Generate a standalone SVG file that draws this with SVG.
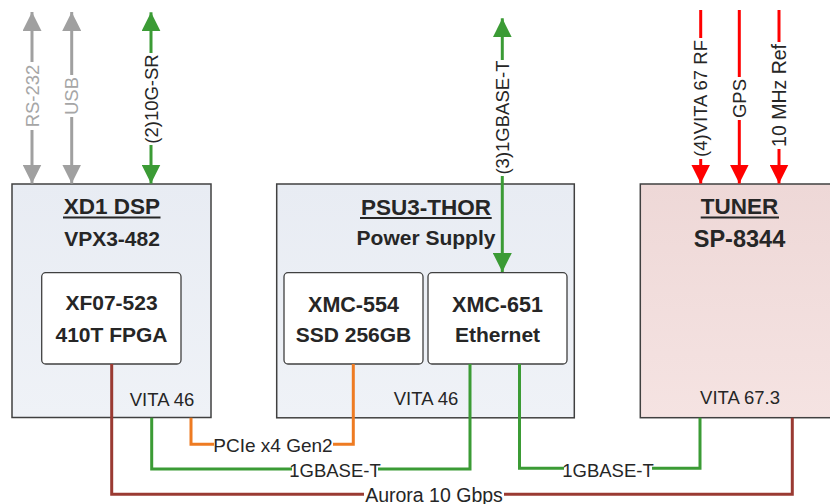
<svg xmlns="http://www.w3.org/2000/svg" width="830" height="504" viewBox="0 0 830 504">
<style>
.box{stroke:#404040;stroke-width:1.5}
.blue{fill:url(#gBlue)}
.pink{fill:url(#gPink)}
.inner{fill:#ffffff;stroke:#404040;stroke-width:1.3}
.t{font-family:"Liberation Sans",Arial,sans-serif;font-weight:bold;fill:#262626;text-anchor:middle}
.ul{stroke:#262626;stroke-width:1.8}
.r{font-family:"Liberation Sans",Arial,sans-serif;font-size:18.5px;fill:#262626;text-anchor:middle}
.rg{font-family:"Liberation Sans",Arial,sans-serif;font-size:18.5px;fill:#a6a6a6;text-anchor:middle}
.big{font-size:19.5px}
.gray{stroke:#a0a0a0;stroke-width:3;fill:none}
.green{stroke:#3b9b35;stroke-width:3;fill:none}
.red{stroke:#ff0000;stroke-width:3;fill:none}
.orange{stroke:#ee7b22;stroke-width:3;fill:none}
.brown{stroke:#9a3a32;stroke-width:3;fill:none}
.bg{fill:#ffffff}
</style>
<defs>
<linearGradient id="gBlue" x1="0" y1="0" x2="0" y2="1">
<stop offset="0" stop-color="#e8ecf3"/>
<stop offset="1" stop-color="#eff2f7"/>
</linearGradient>
<linearGradient id="gPink" x1="0" y1="0" x2="0" y2="1">
<stop offset="0" stop-color="#eed8d7"/>
<stop offset="1" stop-color="#f5e3e2"/>
</linearGradient>
<marker id="aGray" markerUnits="userSpaceOnUse" markerWidth="19" markerHeight="19" viewBox="0 0 19 19" refX="19" refY="9.5" orient="auto-start-reverse"><path d="M0,0 L19,9.5 L0,19 z" fill="#a0a0a0"/></marker>
<marker id="aGreen" markerUnits="userSpaceOnUse" markerWidth="19" markerHeight="19" viewBox="0 0 19 19" refX="19" refY="9.5" orient="auto-start-reverse"><path d="M0,0 L19,9.5 L0,19 z" fill="#3b9b35"/></marker>
<marker id="aRed" markerUnits="userSpaceOnUse" markerWidth="19" markerHeight="19" viewBox="0 0 19 19" refX="19" refY="9.5" orient="auto-start-reverse"><path d="M0,0 L19,9.5 L0,19 z" fill="#ff0000"/></marker>
</defs>

<g id="xd1">
<rect class="box blue" x="12" y="184" width="199" height="233.5"/>
<text class="t" x="112" y="213.5" font-size="22.5">XD1 DSP</text>
<line class="ul" x1="63" y1="217.5" x2="160.5" y2="217.5"/>
<text class="t" x="112" y="245.5" font-size="21">VPX3-482</text>
<text class="r" x="162" y="405.5">VITA 46</text>
</g>
<g id="fpga">
<rect class="inner" x="41.7" y="272.7" width="139.3" height="91.3" rx="4"/>
<text class="t" x="111.5" y="310" font-size="21">XF07-523</text>
<text class="t" x="111.5" y="341.5" font-size="21">410T FPGA</text>
</g>

<g id="psu">
<rect class="box blue" x="276.7" y="184" width="297.6" height="233.8"/>
<text class="t" x="426" y="214.5" font-size="22.5">PSU3-THOR</text>
<line class="ul" x1="360" y1="218" x2="491.7" y2="218"/>
<text class="t" x="426" y="245" font-size="21">Power Supply</text>
<text class="r" x="426" y="405">VITA 46</text>
</g>
<g id="xmc554">
<rect class="inner" x="284" y="272.7" width="139" height="91.3" rx="4"/>
<text class="t" x="353.5" y="311.5" font-size="21.5">XMC-554</text>
<text class="t" x="353.5" y="341.5" font-size="21">SSD 256GB</text>
</g>
<g id="xmc651">
<rect class="inner" x="428" y="272.7" width="139" height="91.3" rx="4"/>
<text class="t" x="497.5" y="311.5" font-size="21.5">XMC-651</text>
<text class="t" x="497.5" y="341.5" font-size="21">Ethernet</text>
</g>

<g id="tuner">
<rect class="box pink" x="640.3" y="184" width="200" height="233.7"/>
<text class="t" x="739.5" y="214" font-size="22.5">TUNER</text>
<line class="ul" x1="700.7" y1="217.5" x2="779" y2="217.5"/>
<text class="t" x="739.5" y="247" font-size="23.5">SP-8344</text>
<text class="r" x="740" y="403.5">VITA 67.3</text>
</g>

<g id="connectors">
<line class="gray" x1="32" y1="12" x2="32" y2="183.5" marker-start="url(#aGray)" marker-end="url(#aGray)"/>
<rect class="bg" x="24" y="62" width="16" height="68"/>
<text class="rg" transform="translate(38.5,96) rotate(-90)">RS-232</text>

<line class="gray" x1="71.7" y1="12" x2="71.7" y2="183.5" marker-start="url(#aGray)" marker-end="url(#aGray)"/>
<rect class="bg" x="63.7" y="75" width="16" height="42"/>
<text class="rg" transform="translate(78.2,96) rotate(-90)">USB</text>

<line class="green" x1="151" y1="12.3" x2="151" y2="183.5" marker-start="url(#aGreen)" marker-end="url(#aGreen)"/>
<rect class="bg" x="143" y="53" width="16" height="92"/>
<text class="r" transform="translate(157.5,99) rotate(-90)">(2)10G-SR</text>

<line class="green" x1="502.3" y1="18.3" x2="502.3" y2="272" marker-start="url(#aGreen)" marker-end="url(#aGreen)"/>
<rect class="bg" x="494.3" y="60" width="16" height="116"/>
<text class="r" transform="translate(508.8,117.5) rotate(-90)">(3)1GBASE-T</text>

<line class="red" x1="700.7" y1="10" x2="700.7" y2="183.5" marker-end="url(#aRed)"/>
<rect class="bg" x="692.7" y="38" width="16" height="121"/>
<text class="r" transform="translate(707.2,98.5) rotate(-90)">(4)VITA 67 RF</text>

<line class="red" x1="739.3" y1="10" x2="739.3" y2="183.5" marker-end="url(#aRed)"/>
<rect class="bg" x="731.3" y="77" width="16" height="43"/>
<text class="r" transform="translate(745.8,98.5) rotate(-90)">GPS</text>

<line class="red" x1="779" y1="10" x2="779" y2="183.5" marker-end="url(#aRed)"/>
<rect class="bg" x="771" y="42" width="16" height="107"/>
<text class="r big" transform="translate(785.5,95.5) rotate(-90)">10 MHz Ref</text>

<polyline class="brown" points="111.7,364 111.7,494.3 792.3,494.3 792.3,417.7"/>
<rect class="bg" x="364" y="486" width="140" height="18"/>
<text class="r big" x="434" y="501.5">Aurora 10 Gbps</text>

<polyline class="green" points="151.7,417.7 151.7,469 470,469 470,364"/>
<rect class="bg" x="292" y="460" width="86" height="18"/>
<text class="r" x="335" y="476.5">1GBASE-T</text>

<polyline class="orange" points="191,417.7 191,444.3 353.3,444.3 353.3,364"/>
<rect class="bg" x="214" y="435" width="119" height="18"/>
<text class="r" x="273" y="451.5" style="font-size:19px">PCIe x4 Gen2</text>

<polyline class="green" points="519.5,364 519.5,468.3 700,468.3 700,417.7"/>
<rect class="bg" x="564" y="459" width="88" height="18"/>
<text class="r" x="608" y="476.5">1GBASE-T</text>
</g>
</svg>
